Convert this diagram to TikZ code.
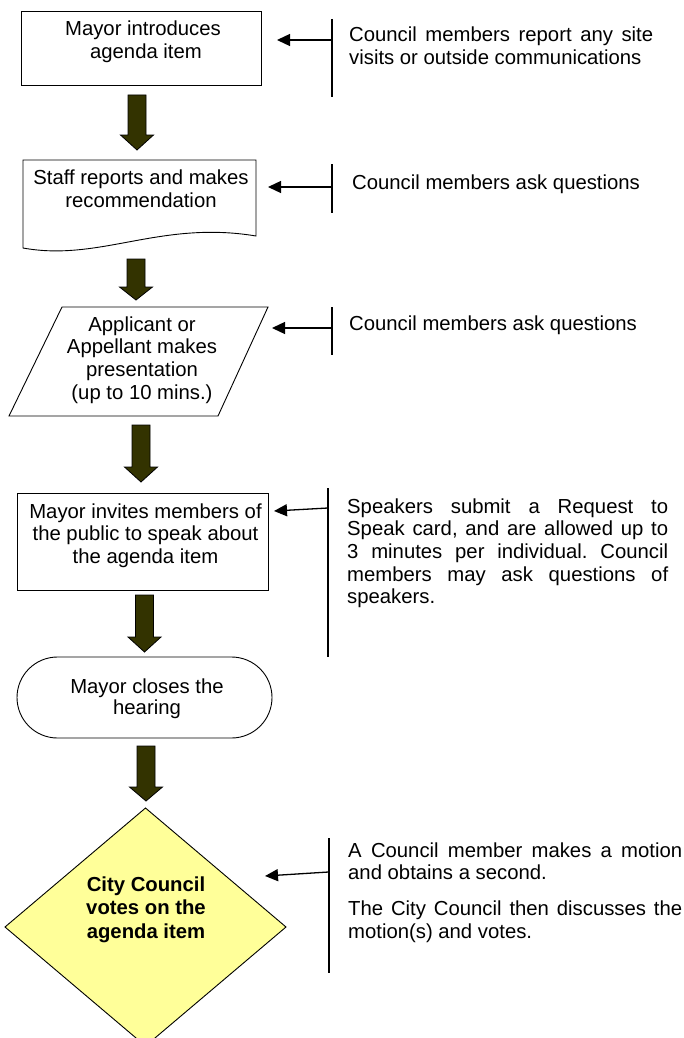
\documentclass[tikz,border=0pt]{standalone}
\usepackage{fontspec}
\setmainfont{Liberation Sans}
\usetikzlibrary{arrows.meta}
\definecolor{arrowfill}{HTML}{333300}
\definecolor{voteyellow}{HTML}{FFFF99}
\frenchspacing
\newcommand{\bigdown}[5]{% name, cx, top, headstart, tip
  \coordinate (#1) at (#2,#5);
  \filldraw[bigarrow] (#2-9,#3) -- (#2+9,#3) -- (#2+9,#4) -- (#2+16.5,#4) -- (#1) -- (#2-16.5,#4) -- (#2-9,#4) -- cycle;}
\begin{document}
\begin{tikzpicture}[x=1pt,y=-1pt,
  txt/.style={font=\fontsize{20.3}{22.7}\selectfont\frenchspacing, inner sep=0pt, align=center, anchor=base},
  side/.style={font=\fontsize{20.3}{22.7}\selectfont\frenchspacing, inner sep=0pt, align=left, anchor=base west},
  shapeline/.style={draw=black, line width=0.9pt},
  bar/.style={draw=black, line width=2pt},
  pointer/.style={draw=black, line width=1.3pt, -{Triangle[length=13pt,width=12pt]}},
  bigarrow/.style={fill=arrowfill, draw=black, line width=0.8pt, line join=miter}]
\fill[white] (0,0) rectangle (683,1038);
\useasboundingbox (0,0) rectangle (683,1038);

% shapes
\draw[shapeline] (21,11) rectangle (261,85);
\draw[shapeline] (23,160) -- (256,160) -- (256,236) .. controls (160,220) and (100,262) .. (23,248) -- cycle;
\draw[shapeline] (62,307) -- (268,307) -- (218,416) -- (9,416) -- cycle;
\draw[shapeline] (17,493) rectangle (268,590);
\draw[shapeline, rounded corners=40.5pt] (17,657) rectangle (272,738);
\draw[shapeline, fill=voteyellow] (145.5,808) -- (286,927) -- (145.5,1046) -- (5,927) -- cycle;

% texts in shapes (anchor = baseline of last line)
\node[txt] (n1) at (143,58.7) {Mayor introduces\\\hspace*{6pt}agenda item};
\node[txt] (n2) at (141,207.3) {Staff reports and makes\\recommendation};
\node[txt] (n3) at (142,399.1) {Applicant or\\Appellant makes\\presentation\\(up to 10 mins.)};
\node[txt] (n4) at (145.5,563.4) {Mayor invites members of\\the public to speak about\\the agenda item};
\node[txt, font=\fontsize{20.3}{21.7}\selectfont] (n5) at (147,714.7) {Mayor closes the\\hearing};
\node[txt, font=\fontsize{20.3}{23.5}\selectfont\bfseries] (n6) at (146,938) {City Council\\votes on the\\agenda item};

% big arrows
\bigdown{a1}{137}{95}{135}{150}
\bigdown{a2}{136}{259}{287}{300}
\bigdown{a3}{141}{425}{467}{482}
\bigdown{a4}{144.5}{595}{637}{652}
\bigdown{a5}{146}{746}{787}{801}

% side brackets
\coordinate (v1t) at (332,19);  \coordinate (v1b) at (332,97);
\coordinate (p1f) at (332,40);  \coordinate (p1t) at (277,40);
\coordinate (v2t) at (332,164); \coordinate (v2b) at (332,213);
\coordinate (p2f) at (332,187); \coordinate (p2t) at (268,187);
\coordinate (v3t) at (332,307); \coordinate (v3b) at (332,355);
\coordinate (p3f) at (332,328); \coordinate (p3t) at (272,328);
\coordinate (v4t) at (328,488); \coordinate (v4b) at (328,657);
\coordinate (p4f) at (328,508); \coordinate (p4t) at (274,511);
\coordinate (v6t) at (328.5,838); \coordinate (v6b) at (328.5,973);
\coordinate (p6f) at (328.5,872); \coordinate (p6t) at (265,876);
\foreach \i in {1,2,3,4,6}{
  \draw[bar] (v\i t) -- (v\i b);
  \draw[pointer] (p\i f) -- (p\i t);
}

% side texts (anchor = baseline of last line)
\node[side] (s1) at (349,64.2) {\makebox[304pt][s]{Council members report any site}\\visits or outside communications};
\node[side] (s2) at (352,189) {Council members ask questions};
\node[side] (s3) at (349,330.5) {Council members ask questions};
\node[side] (s4) at (347,603.8) {\makebox[321pt][s]{Speakers submit a Request to}\\\makebox[321pt][s]{Speak card, and are allowed up to}\\\makebox[321pt][s]{3 minutes per individual. Council}\\\makebox[321pt][s]{members may ask questions of}\\speakers.};
\node[side] (s6) at (348,938.6) {\makebox[334pt][s]{A Council member makes a motion}\\and obtains a second.\\[13.5pt]\makebox[334pt][s]{The City Council then discusses the}\\motion(s) and votes.};
\end{tikzpicture}
\end{document}
